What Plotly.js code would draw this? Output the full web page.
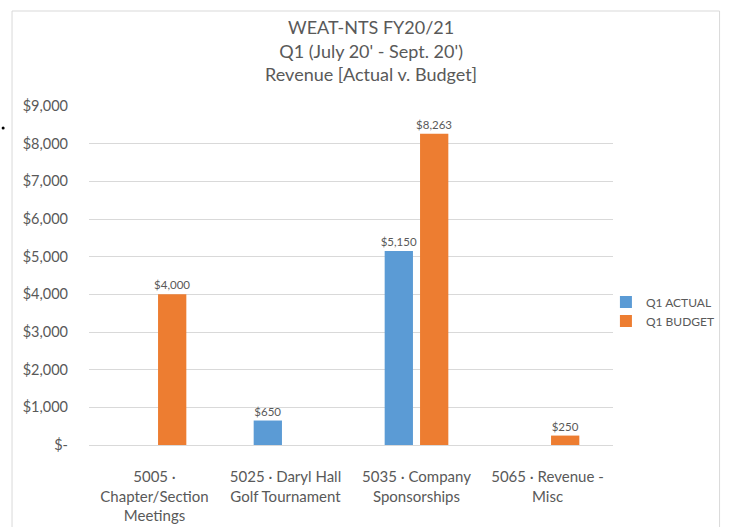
<!DOCTYPE html>
<html>
<head>
<meta charset="utf-8">
<script src="https://cdn.plot.ly/plotly-3.0.1.min.js"></script>
<style>
  html, body { margin: 0; padding: 0; background: #ffffff; }
  #chart { width: 732px; height: 527px; }
</style>
</head>
<body>
<div id="chart"></div>
<script>
const categories = [
  "5005 ·<br>Chapter/Section<br>Meetings",
  "5025 · Daryl Hall<br>Golf Tournament",
  "5035 · Company<br>Sponsorships",
  "5065 · Revenue -<br>Misc"
];
const q1Actual = [null, 650, 5150, null];
const q1Budget = [4000, null, 8263, 250];
const yTickVals = [0, 1000, 2000, 3000, 4000, 5000, 6000, 7000, 8000, 9000];
const yTickText = ["$-", "$1,000", "$2,000", "$3,000", "$4,000", "$5,000", "$6,000", "$7,000", "$8,000", "$9,000"];
const titleLines = ["WEAT-NTS FY20/21", "Q1 (July 20' - Sept. 20')", "Revenue [Actual v. Budget]"];

const FONT = "Lato, 'Open Sans', sans-serif";
const GREY = "#595959";

const fmt = v => v == null ? "" : "$" + v.toLocaleString("en-US");

const traces = [
  {
    type: "bar", name: "Q1 ACTUAL", x: categories, y: q1Actual,
    marker: { color: "#5b9bd5" },
    text: q1Actual.map(fmt), textposition: "outside", cliponaxis: false,
    constraintext: "none",
    textfont: { family: FONT, size: 11.5, color: GREY },
    legendgroup: "a", hoverinfo: "none"
  },
  {
    type: "bar", name: "Q1 BUDGET", x: categories, y: q1Budget,
    marker: { color: "#ed7d31" },
    text: q1Budget.map(fmt), textposition: "outside", cliponaxis: false,
    constraintext: "none",
    textfont: { family: FONT, size: 11.5, color: GREY },
    legendgroup: "b", hoverinfo: "none"
  }
];

const layout = {
  width: 732, height: 527,
  margin: { l: 89, r: 112, t: 106, b: 82 },
  paper_bgcolor: "#ffffff", plot_bgcolor: "#ffffff",
  font: { family: FONT, color: GREY },
  title: {
    text: titleLines.join("<br>"),
    font: { family: FONT, size: 18, color: GREY },
    xref: "container", x: 0.507, xanchor: "center",
    yref: "container", y: 0.935, yanchor: "top"
  },
  barmode: "group", bargap: 0.46, bargroupgap: 0.2,
  xaxis: {
    type: "category", showgrid: false, ticks: "",
    tickfont: { family: FONT, size: 15, color: GREY },
    ticklabelstandoff: 18,
    showline: true, linecolor: "#d9d9d9", linewidth: 1
  },
  yaxis: {
    range: [0, 9000], tickvals: yTickVals, ticktext: yTickText,
    showgrid: true, gridcolor: "#d9d9d9", gridwidth: 1,
    zeroline: false, showline: false, ticks: "",
    tickfont: { family: FONT, size: 14.5, color: GREY },
    ticklabelstandoff: 20
  },
  showlegend: true,
  legend: {
    x: 0.9865, xanchor: "left", y: 0.394, yanchor: "middle",
    font: { family: FONT, size: 12, color: GREY },
    traceorder: "normal", tracegroupgap: 7, bgcolor: "rgba(0,0,0,0)"
  },
  shapes: [
    { type: "rect", xref: "paper", yref: "paper",
      x0: (11 - 89) / 531, x1: (728 - 89) / 531,
      y0: (445 - 600) / 339, y1: (445 - 11) / 339,
      line: { color: "#d9d9d9", width: 1 }, fillcolor: "rgba(0,0,0,0)", layer: "below" },
    { type: "circle", xref: "paper", yref: "paper",
      xsizemode: "pixel", ysizemode: "pixel",
      xanchor: (2 - 89) / 531, yanchor: (445 - 128) / 339,
      x0: -1.5, x1: 1.5, y0: -1.5, y1: 1.5,
      fillcolor: "#000000", line: { width: 0 } }
  ]
};

Plotly.newPlot("chart", traces, layout, { displayModeBar: false, staticPlot: true });
</script>
</body>
</html>
